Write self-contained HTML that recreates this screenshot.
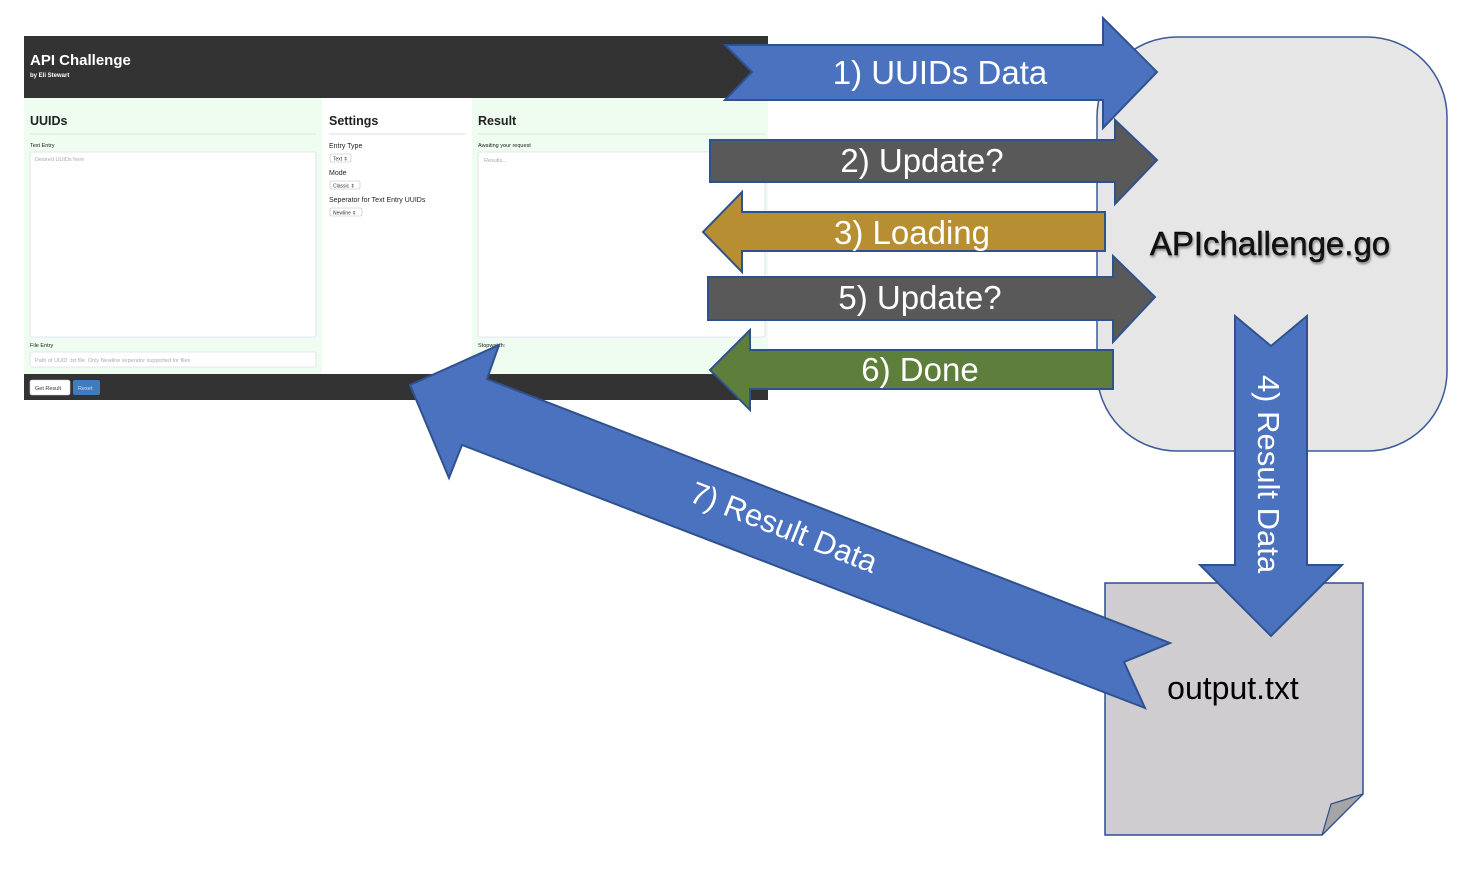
<!DOCTYPE html>
<html><head><meta charset="utf-8"><style>
html,body{margin:0;padding:0;background:#fff;}
svg{display:block;font-family:"Liberation Sans",sans-serif;}
</style></head><body>
<svg width="1484" height="896" viewBox="0 0 1484 896" xmlns="http://www.w3.org/2000/svg">
<rect x="24" y="36" width="744" height="62" fill="#333"/>
<text x="30" y="65" font-size="15" fill="#fff" font-weight="bold">API Challenge</text>
<text x="30" y="77" font-size="6" fill="#fff" font-weight="bold">by Eli Stewart</text>
<rect x="24" y="98" width="298" height="276" fill="#effdf0"/>
<rect x="322" y="98" width="150" height="276" fill="#fff"/>
<rect x="472" y="98" width="296" height="276" fill="#effdf0"/>
<rect x="24" y="374" width="744" height="26" fill="#333"/>
<text x="30" y="125" font-size="12.5" fill="#222" font-weight="bold">UUIDs</text>
<line x1="30" y1="134" x2="316" y2="134" stroke="#dde8de"/>
<text x="30" y="147" font-size="5.5" fill="#222">Text Entry</text>
<rect x="30" y="152" width="286" height="185" fill="#fff" stroke="#dde" stroke-width="0.8" rx="2"/>
<text x="35" y="161" font-size="5.5" fill="#aaa">Desired UUIDs here</text>
<text x="30" y="347" font-size="5.5" fill="#222">File Entry</text>
<rect x="30" y="352" width="286" height="15" fill="#fff" stroke="#dde" stroke-width="0.8" rx="2"/>
<text x="35" y="362" font-size="5.5" fill="#aaa">Path of UUID .txt file. Only Newline seperator supported for files</text>
<text x="329" y="125" font-size="12.5" fill="#222" font-weight="bold">Settings</text>
<line x1="329" y1="134" x2="466" y2="134" stroke="#dde"/>
<text x="329" y="148" font-size="7" fill="#222">Entry Type</text>
<rect x="330" y="154" width="21" height="8" fill="#fff" stroke="#bbb" stroke-width="0.6" rx="1.5"/>
<text x="333" y="160.5" font-size="5" fill="#333">Text ⇕</text>
<text x="329" y="175" font-size="7" fill="#222">Mode</text>
<rect x="330" y="181" width="30" height="8" fill="#fff" stroke="#bbb" stroke-width="0.6" rx="1.5"/>
<text x="333" y="187.5" font-size="5" fill="#333">Classic ⇕</text>
<text x="329" y="202" font-size="7" fill="#222">Seperator for Text Entry UUIDs</text>
<rect x="330" y="208" width="32" height="8" fill="#fff" stroke="#bbb" stroke-width="0.6" rx="1.5"/>
<text x="333" y="214.5" font-size="5" fill="#333">Newline ⇕</text>
<text x="478" y="125" font-size="12.5" fill="#222" font-weight="bold">Result</text>
<line x1="478" y1="134" x2="765" y2="134" stroke="#dde8de"/>
<text x="478" y="147" font-size="5.5" fill="#222">Awaiting your request</text>
<rect x="478" y="152" width="287" height="185" fill="#fff" stroke="#dde" stroke-width="0.8" rx="2"/>
<text x="484" y="162" font-size="5.5" fill="#aaa">Results...</text>
<text x="478" y="347" font-size="5.5" fill="#222">Stopwatch:</text>
<rect x="30" y="380" width="40" height="15" fill="#fff" stroke="#ccc" stroke-width="0.6" rx="2"/>
<text x="35" y="390" font-size="5.5" fill="#333">Get Result</text>
<rect x="73" y="380" width="27" height="15" fill="#3f7bbf" rx="2"/>
<text x="78" y="390" font-size="5.5" fill="#dde">Reset</text>

<rect x="1097" y="37" width="350" height="414" rx="80" fill="#e6e6e6" stroke="#3a5a9a" stroke-width="1.5"/>
<text x="1270" y="255" font-size="33" text-anchor="middle" fill="#000" style="text-shadow:1px 2px 2px #888" stroke="#000" stroke-width="0.4">APIchallenge.go</text>

<path d="M1105,583 H1363 V794 L1322,835 H1105 Z" fill="#cfcdcf" stroke="#2e4d8f" stroke-width="1.5"/>
<path d="M1363,794 L1331,804 L1322,835 Z" fill="#a5a5a5" stroke="#2e4d8f" stroke-width="1.2"/>
<text x="1233" y="699" font-size="32" text-anchor="middle" fill="#000">output.txt</text>

<g stroke="#2f528f" stroke-width="2">
<path d="M725,45 H1103 V18 L1157,72 L1103,128 V100 H725 L752,72 Z" fill="#4a72bf"/>
<path d="M710,140 H1115 V120 L1157,160 L1115,204 V182 H710 Z" fill="#595959"/>
<path d="M1105,212 H742 V192 L703,232 L742,272 V251 H1105 Z" fill="#b78f32"/>
<path d="M708,277 H1113 V256 L1155,297 L1113,342 V320 H708 Z" fill="#595959"/>
<path d="M1113,350 H750 V330 L710,370 L750,410 V389 H1113 Z" fill="#5d7f3b"/>
<path d="M1235,316 L1271,346 L1307,316 V565 H1342 L1271,636 L1200,565 H1235 Z" fill="#4a72bf"/>
<path d="M410,385 L499,345 L487,379 L1170,643 L1124,662 L1145,708 L462,445 L449,478 Z" fill="#4a72bf"/>
</g>

<g fill="#fff" font-size="33" text-anchor="middle">
<text x="940" y="84">1) UUIDs Data</text>
<text x="922" y="172">2) Update?</text>
<text x="912" y="244">3) Loading</text>
<text x="920" y="309">5) Update?</text>
<text x="920" y="381">6) Done</text>
<text transform="translate(1258,474) rotate(90)" text-anchor="middle" font-size="31">4) Result Data</text>
<text transform="translate(780,537) rotate(21.5)" text-anchor="middle" font-size="31">7) Result Data</text>
</g>
</svg>
</body></html>
